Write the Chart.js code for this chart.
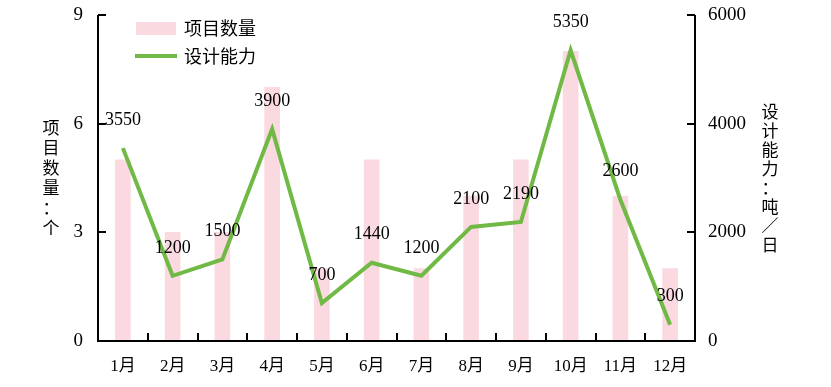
<!DOCTYPE html>
<html>
<head>
<meta charset="utf-8">
<script src="https://cdn.jsdelivr.net/npm/chart.js@4.4.1/dist/chart.umd.min.js"></script>
<style>
  html, body { margin: 0; padding: 0; background: #fff; }
  #wrap { width: 831px; height: 387px; }
</style>
</head>
<body>
<div id="wrap"><canvas id="chart" width="831" height="387"></canvas></div>
<script>
var months = ['1月', '2月', '3月', '4月', '5月', '6月', '7月', '8月', '9月', '10月', '11月', '12月'];
var projectCount = [5, 3, 3, 7, 2, 5, 2, 4, 5, 8, 4, 2];
var capacity = [3550, 1200, 1500, 3900, 700, 1440, 1200, 2100, 2190, 5350, 2600, 300];
var leftTitle = ['项', '目', '数', '量', '：', '个'];
var rightTitle = ['设', '计', '能', '力', '：', '吨', '／', '日'];

var FONT = '"Liberation Serif", "Noto Sans CJK SC", serif';
var BAR_COLOR = 'rgb(250, 218, 224)';
var LINE_COLOR = 'rgb(112, 185, 68)';

// ejes, marcas hacia dentro, etiquetas de datos, leyenda y títulos verticales
var decor = {
    id: 'decor',
    afterDatasetsDraw: function (chart) {
        var ctx = chart.ctx;
        var a = chart.chartArea;
        var yl = chart.scales.y, yr = chart.scales.y1;
        ctx.save();
        ctx.strokeStyle = '#000';
        ctx.lineWidth = 2;
        ctx.beginPath();
        ctx.moveTo(a.left, a.top); ctx.lineTo(a.left, a.bottom); ctx.lineTo(a.right, a.bottom); ctx.lineTo(a.right, a.top);
        yl.ticks.forEach(function (t) {
            var py = Math.round(yl.getPixelForValue(t.value));
            ctx.moveTo(a.left, py); ctx.lineTo(a.left + 8, py);
        });
        yr.ticks.forEach(function (t) {
            var py = Math.round(yr.getPixelForValue(t.value));
            ctx.moveTo(a.right, py); ctx.lineTo(a.right - 8, py);
        });
        var step = (a.right - a.left) / months.length;
        for (var i = 1; i < months.length; i++) {
            var px = Math.round(a.left + step * i);
            ctx.moveTo(px, a.bottom); ctx.lineTo(px, a.bottom - 8);
        }
        ctx.stroke();

        // etiquetas sobre la línea
        ctx.fillStyle = '#000';
        ctx.font = '18px ' + FONT;
        ctx.textAlign = 'center';
        ctx.textBaseline = 'middle';
        chart.getDatasetMeta(1).data.forEach(function (pt, i) {
            ctx.fillText(String(capacity[i]), pt.x, pt.y - 28);
        });

        // leyenda
        ctx.fillStyle = BAR_COLOR;
        ctx.fillRect(136, 22, 40, 13);
        ctx.strokeStyle = LINE_COLOR;
        ctx.lineWidth = 4;
        ctx.beginPath(); ctx.moveTo(135, 56); ctx.lineTo(177, 56); ctx.stroke();
        ctx.fillStyle = '#000';
        ctx.textAlign = 'left';
        ctx.font = '18px "Noto Sans CJK SC", sans-serif';
        ctx.fillText('项目数量', 184, 28);
        ctx.fillText('设计能力', 184, 56);

        // títulos de ejes
        ctx.textAlign = 'center';
        ctx.font = '17px "Noto Sans CJK SC", sans-serif';
        leftTitle.forEach(function (c, i) { ctx.fillText(c, 51, 128 + i * 20); });
        rightTitle.forEach(function (c, i) { ctx.fillText(c, 770, 112 + i * 19); });
        ctx.restore();
    }
};

function noPad(s) { s.paddingTop = 0; s.paddingBottom = 0; s.paddingLeft = 0; s.paddingRight = 0; }

new Chart(document.getElementById('chart'), {
    type: 'bar',
    data: {
        labels: months,
        datasets: [{
            type: 'bar',
            label: '项目数量',
            data: projectCount,
            backgroundColor: BAR_COLOR,
            barThickness: 15,
            yAxisID: 'y',
            order: 1
        }, {
            type: 'line',
            label: '设计能力',
            data: capacity,
            borderColor: LINE_COLOR,
            borderWidth: 4,
            pointRadius: 0,
            tension: 0,
            yAxisID: 'y1',
            order: 0
        }]
    },
    options: {
        responsive: false,
        animation: false,
        layout: { padding: { top: 15, left: 0, right: 0, bottom: 0 } },
        plugins: { legend: { display: false }, tooltip: { enabled: false } },
        scales: {
            x: {
                grid: { display: false, drawTicks: false },
                border: { display: false },
                ticks: { color: '#000', font: { size: 17, family: FONT }, padding: 15, maxRotation: 0 },
                afterFit: function (s) { s.height = 46; noPad(s); }
            },
            y: {
                position: 'left',
                min: 0, max: 9,
                grid: { display: false, drawTicks: false },
                border: { display: false },
                ticks: { stepSize: 3, color: '#000', font: { size: 19, family: FONT }, padding: 15 },
                afterFit: function (s) { s.width = 98; noPad(s); }
            },
            y1: {
                position: 'right',
                min: 0, max: 6000,
                grid: { display: false, drawTicks: false },
                border: { display: false },
                ticks: {
                    stepSize: 2000, color: '#000', font: { size: 19, family: FONT }, padding: 13,
                    callback: function (v) { return String(v); }
                },
                afterFit: function (s) { s.width = 136; noPad(s); }
            }
        }
    },
    plugins: [decor]
});
</script>
</body>
</html>
